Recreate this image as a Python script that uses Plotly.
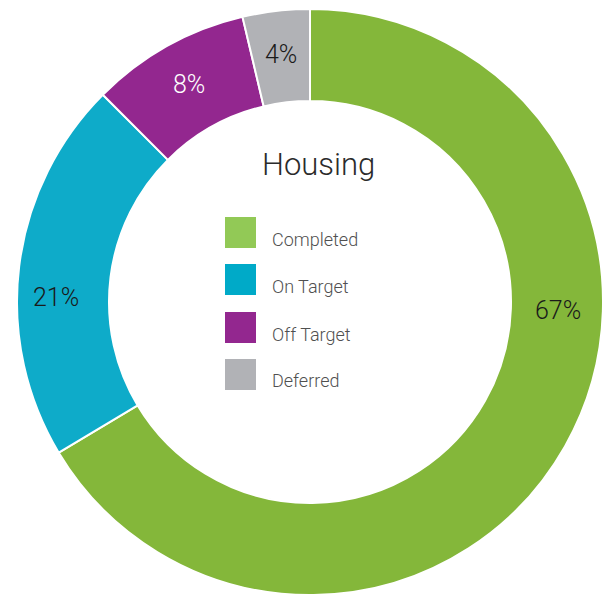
import math
import plotly.graph_objects as go

categories = ["Completed", "On Target", "Off Target", "Deferred"]
# slice sizes as measured from the ring's geometry
values = [66.4, 21.1, 8.8, 3.7]
# percentage labels exactly as printed on the chart
pct_labels = ["67%", "21%", "8%", "4%"]
slice_colors = ["#84b73a", "#0eabc9", "#93278f", "#b1b2b6"]
legend_colors = ["#92c956", "#00aac8", "#93278f", "#b1b2b6"]
text_colors = ["#1a1a1a", "#1a1a1a", "#ffffff", "#1a1a1a"]
# label placement overrides (degrees clockwise from 12 o'clock);
# None = on the slice's bisector
label_angles = [92, 271, None, None]
label_radii = [248, 254, 249, 249]
title_text = "Housing"

W, H = 605, 595
CX, CY = 310, 302           # pixel centre of the ring
R_OUT, R_IN = 293, 201

fig = go.Figure(go.Pie(
    labels=categories,
    values=values,
    sort=False,
    direction="clockwise",
    rotation=0,
    hole=R_IN / R_OUT,
    marker=dict(colors=slice_colors, line=dict(color="#ffffff", width=2)),
    textinfo="none",
    domain=dict(x=[(CX - R_OUT) / W, (CX + R_OUT) / W],
                y=[max(0, 1 - (CY + R_OUT) / H), 1 - (CY - R_OUT) / H]),
    showlegend=False,
    hoverinfo="label+percent",
))

shapes = []
annotations = []

total = sum(values)
cum = 0.0
for v, t, a, r, tc in zip(values, pct_labels, label_angles, label_radii, text_colors):
    mid = (cum + v / 2) / total * 360.0
    cum += v
    ang = mid if a is None else a
    px = CX + r * math.sin(math.radians(ang))
    py = CY - r * math.cos(math.radians(ang))
    annotations.append(dict(text=t, xref="paper", yref="paper",
                            x=px / W, y=1 - py / H, xanchor="center", yanchor="middle",
                            showarrow=False,
                            font=dict(family="Roboto", size=25, color=tc, weight=300)))

sq_top = [217, 264, 312, 359]
for i, (lab, col) in enumerate(zip(categories, legend_colors)):
    t = sq_top[i]
    shapes.append(dict(type="rect", xref="paper", yref="paper",
                       x0=225 / W, x1=256 / W, y0=1 - (t + 31) / H, y1=1 - t / H,
                       fillcolor=col, line=dict(width=0)))
    annotations.append(dict(text=lab, xref="paper", yref="paper",
                            x=270 / W, y=1 - (t + 22) / H, xanchor="left", yanchor="middle",
                            showarrow=False,
                            font=dict(family="Roboto", size=18, color="#505050", weight=300)))

annotations.append(dict(text=title_text, xref="paper", yref="paper",
                        x=318 / W, y=1 - 164 / H, xanchor="center", yanchor="middle",
                        showarrow=False,
                        font=dict(family="Roboto", size=31, color="#2b2b2b", weight=300)))

fig.update_layout(
    width=W, height=H,
    margin=dict(l=0, r=0, t=0, b=0),
    paper_bgcolor="#ffffff",
    plot_bgcolor="#ffffff",
    shapes=shapes,
    annotations=annotations,
)

fig.write_html("out.html", config={"displayModeBar": False},
               post_script="document.body.style.margin='0';")
